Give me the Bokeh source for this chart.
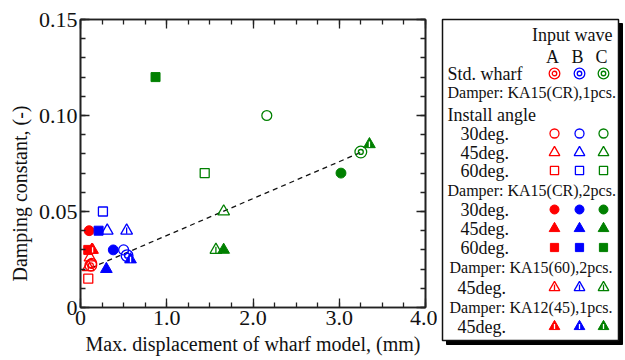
import numpy as np
from bokeh.plotting import figure
from bokeh.layouts import row
from bokeh.models import Range1d, LinearAxis, FixedTicker
from bokeh.core.properties import value
from bokeh.embed import file_html
from bokeh.resources import INLINE

FONT = "Liberation Serif"

# Input waves A, B, C and their colours
waves = ["A", "B", "C"]
wave_colors = ["#ff0000", "#0000ff", "#008000"]

# Max. displacement of wharf model (mm) / damping constant, per wave A, B, C
std_x = [0.12, 0.54, 3.25]          # standard wharf
std_y = [0.022, 0.027, 0.081]

cr1_30_x = [0.13, 0.50, 2.16]       # KA15(CR), 1pcs, 30deg
cr1_30_y = [0.023, 0.030, 0.100]
cr1_45_x = [0.11, 0.31, 1.66]       # KA15(CR), 1pcs, 45deg
cr1_45_y = [0.026, 0.040, 0.050]
cr1_60_x = [0.09, 0.26, 1.44]       # KA15(CR), 1pcs, 60deg
cr1_60_y = [0.015, 0.050, 0.070]

cr2_30_x = [0.10, 0.38, 3.02]       # KA15(CR), 2pcs, 30deg
cr2_30_y = [0.040, 0.030, 0.070]
cr2_45_x = [0.13, 0.30, 1.66]       # KA15(CR), 2pcs, 45deg
cr2_45_y = [0.030, 0.020, 0.030]
cr2_60_x = [0.09, 0.21, 0.87]       # KA15(CR), 2pcs, 60deg
cr2_60_y = [0.030, 0.040, 0.120]

ka1560_x = [0.09, 0.535, 1.57]      # KA15(60), 2pcs, 45deg
ka1560_y = [0.021, 0.040, 0.030]
ka1245_x = [0.14, 0.58, 3.35]       # KA12(45), 1pcs, 45deg
ka1245_y = [0.030, 0.025, 0.085]

x_ticks = [0, 1, 2, 3, 4]
x_tick_labels = ["0", "1.0", "2.0", "3.0", "4.0"]
y_ticks = [0, 0.05, 0.10, 0.15]
y_tick_labels = ["0", "0.05", "0.10", "0.15"]


def draw(fig, xs, ys, style, k=1.0):
    """Draw one marker style for waves A, B, C."""
    lw = 1.3
    if style == "std":
        fig.scatter(xs, ys, marker="circle", size=13 * k, fill_color=None,
                    line_color=wave_colors, line_width=lw)
        fig.scatter(xs, ys, marker="circle", size=5.5 * k, fill_color=None,
                    line_color=wave_colors, line_width=lw)
    elif style in ("circle", "triangle", "square"):
        size = {"circle": 11, "triangle": 13, "square": 10}[style] * k
        fig.scatter(xs, ys, marker=style, size=size, fill_color=None,
                    line_color=wave_colors, line_width=lw)
    elif style in ("circle_f", "triangle_f", "square_f"):
        m = style[:-2]
        size = {"circle": 11, "triangle": 13, "square": 10}[m] * k
        fig.scatter(xs, ys, marker=m, size=size, fill_color=wave_colors,
                    line_color=wave_colors, line_width=1)
    elif style == "tri_line":
        fig.scatter(xs, ys, marker="triangle", size=13 * k, fill_color=None,
                    line_color=wave_colors, line_width=lw)
        fig.scatter(xs, ys, marker="dash", size=7 * k, angle=np.pi / 2,
                    line_color=wave_colors, line_width=lw)
    elif style == "tri_notch":
        fig.scatter(xs, ys, marker="triangle", size=13 * k, fill_color=wave_colors,
                    line_color=wave_colors, line_width=1)
        fig.scatter(xs, ys, marker="dash", size=6 * k, angle=np.pi / 2,
                    line_color="white", line_width=1.3)


# ---------------- main chart ----------------
p = figure(width=437, height=360, x_range=Range1d(0, 4), y_range=Range1d(0, 0.15),
           output_backend="svg", toolbar_location=None,
           min_border_left=80, min_border_right=12, min_border_top=19,
           min_border_bottom=53)
p.xgrid.visible = False
p.ygrid.visible = False
p.outline_line_color = "#222222"
p.outline_line_width = 1.6
p.background_fill_color = "white"
p.border_fill_color = "white"

x_ticker = FixedTicker(ticks=x_ticks, minor_ticks=list(np.arange(0, 4.01, 0.25)))
y_ticker = FixedTicker(ticks=y_ticks, minor_ticks=list(np.arange(0, 0.1501, 0.01)))


def style_axis(ax):
    ax.axis_line_color = "#222222"
    ax.axis_line_width = 1.6
    ax.major_tick_in = 9
    ax.major_tick_out = 0
    ax.minor_tick_in = 5
    ax.minor_tick_out = 0
    ax.major_tick_line_color = "#222222"
    ax.minor_tick_line_color = "#222222"
    ax.major_tick_line_width = 1.3
    ax.minor_tick_line_width = 1.3
    ax.major_label_text_font = FONT
    ax.major_label_text_color = "#111111"
    ax.axis_label_text_font = FONT
    ax.axis_label_text_font_style = "normal"
    ax.axis_label_text_color = "#111111"


p.xaxis.ticker = x_ticker
p.yaxis.ticker = y_ticker
p.xaxis.major_label_overrides = dict(zip(x_ticks, x_tick_labels))
p.yaxis.major_label_overrides = dict(zip(y_ticks, y_tick_labels))
style_axis(p.xaxis[0])
style_axis(p.yaxis[0])
p.xaxis.major_label_text_font_size = "22px"
p.yaxis.major_label_text_font_size = "22px"
p.xaxis.major_label_standoff = 3
p.yaxis.major_label_standoff = 3
p.xaxis.axis_label = "Max. displacement of wharf model, (mm)"
p.xaxis.axis_label_text_font_size = "20px"
p.xaxis.axis_label_standoff = 5
# trailing no-break spaces set the y title a little below the axis middle
p.yaxis.axis_label = "Damping constant, (-)" + "\u00a0" * 12
p.yaxis.axis_label_text_font_size = "20px"
p.yaxis.axis_label_standoff = 5

# tick marks on the top and right edges of the box, without labels
top_ax = LinearAxis(ticker=x_ticker)
right_ax = LinearAxis(ticker=y_ticker)
for ax, ticks in ((top_ax, x_ticks), (right_ax, y_ticks)):
    style_axis(ax)
    ax.major_label_overrides = {t: "" for t in ticks}
    ax.major_label_standoff = 0
p.add_layout(top_ax, "above")
p.add_layout(right_ax, "right")

# fitted trend through the standard-wharf points
coef = np.polyfit(std_x, std_y, 1)
fx = np.array([min(std_x), max(std_x)])
p.line(fx, np.polyval(coef, fx), line_color="#111111", line_width=1.3, line_dash="5 4")

K_MAIN = 0.9
draw(p, cr1_60_x, cr1_60_y, "square", K_MAIN)
draw(p, cr1_30_x, cr1_30_y, "circle", K_MAIN)
draw(p, cr1_45_x, cr1_45_y, "triangle", K_MAIN)
draw(p, ka1560_x, ka1560_y, "tri_line", K_MAIN)
draw(p, std_x, std_y, "std", K_MAIN)
draw(p, cr2_45_x, cr2_45_y, "triangle_f", K_MAIN)
draw(p, cr2_30_x, cr2_30_y, "circle_f", K_MAIN)
draw(p, cr2_60_x, cr2_60_y, "square_f", K_MAIN)
draw(p, ka1245_x, ka1245_y, "tri_notch", K_MAIN)

# ---------------- legend panel (page-pixel coordinates) ----------------
leg = figure(width=188, height=360, x_range=Range1d(437, 625), y_range=Range1d(360, 0),
             output_backend="svg", toolbar_location=None, min_border=0)
leg.axis.visible = False
leg.xgrid.visible = False
leg.ygrid.visible = False
leg.outline_line_color = None
if "frame_align" in leg.properties():
    leg.frame_align = False
    p.frame_align = False

leg.quad(left=[446], right=[622], top=[23], bottom=[344], fill_color="black",
         line_color="black")
leg.quad(left=[442], right=[618], top=[19], bottom=[340], fill_color="white",
         line_color="#111111", line_width=1.5)

col_x = [554, 579, 603]


def ltext(x, y, s, size, align="left"):
    leg.text(x=[x], y=[y], text=[s], text_font=value(FONT), text_font_size=value(size),
             text_baseline="middle", text_align=align, text_color="#111111")


ltext(612, 34, "Input wave", "18px", "right")
for cx, w in zip(col_x, waves):
    ltext(cx - 2, 56, w, "18px", "center")

rows = [
    ("Std. wharf", 447, 73, "18px", "std"),
    ("Damper: KA15(CR),1pcs.", 447, 92, "16px", None),
    ("Install angle", 447, 114, "18px", None),
    ("30deg.", 460, 133, "18px", "circle"),
    ("45deg.", 460, 152, "18px", "triangle"),
    ("60deg.", 460, 170, "18px", "square"),
    ("Damper: KA15(CR),2pcs.", 447, 190, "16px", None),
    ("30deg.", 460, 209, "18px", "circle_f"),
    ("45deg.", 460, 228, "18px", "triangle_f"),
    ("60deg.", 460, 247, "18px", "square_f"),
    ("Damper: KA15(60),2pcs.", 449, 267, "16px", None),
    ("45deg.", 457, 287, "18px", "tri_line"),
    ("Damper: KA12(45),1pcs.", 449, 307, "16px", None),
    ("45deg.", 457, 326, "18px", "tri_notch"),
]
for label, tx, ty, fs, style in rows:
    ltext(tx, ty, label, fs)
    if style:
        draw(leg, col_x, [ty] * 3, style, k=0.82)

layout = row(p, leg)
open("out.html", "w").write(file_html(layout, INLINE))
